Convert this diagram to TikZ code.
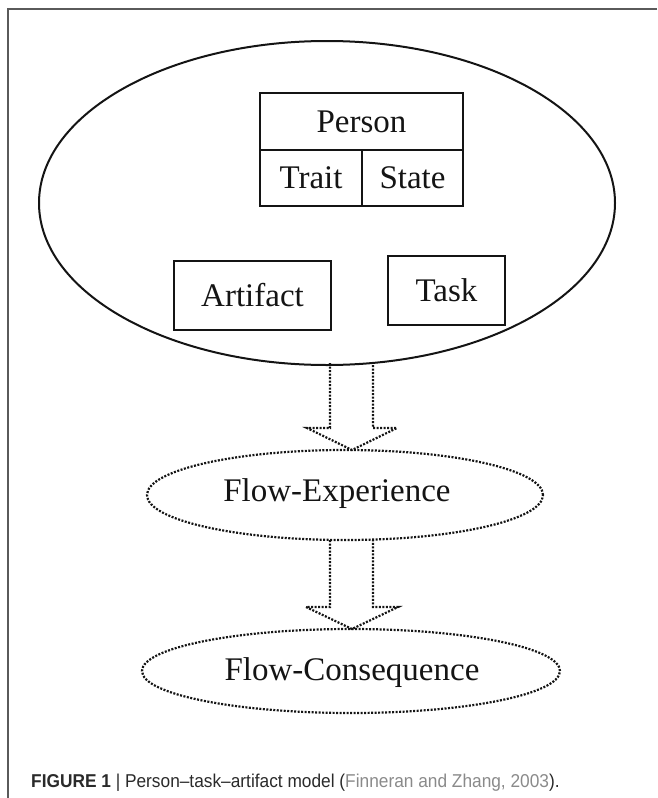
\documentclass[tikz,border=0pt]{standalone}
\usepackage{fontspec}
\setmainfont{Liberation Serif}
\newfontfamily\capfont[FakeStretch=0.93]{Liberation Sans}
\usetikzlibrary{shapes.geometric}
\definecolor{framegray}{HTML}{5A5A5A}
\definecolor{capdark}{HTML}{2A2A2A}
\definecolor{caplink}{HTML}{8A8A8A}
\definecolor{ink}{HTML}{141414}
\tikzset{
  x=1pt, y=-1pt,
  txt/.style={font=\fontsize{33}{38}\selectfont, text=ink, inner sep=0pt},
  boxnode/.style={draw=ink, line width=1.5pt, inner sep=0pt, outer sep=0pt},
  bigell/.style={ellipse, draw=ink, line width=2pt, inner sep=0pt, outer sep=0pt},
  dotell/.style={ellipse, draw=ink, line width=2.2pt, dash pattern=on 2pt off 1.5pt, inner sep=0pt, outer sep=0pt},
  dotarrow/.style={draw=ink, line width=2.2pt, dash pattern=on 2pt off 1.5pt, line join=miter},
  frameline/.style={draw=framegray, line width=2pt}
}
\begin{document}
\begin{tikzpicture}
\useasboundingbox (0,0) rectangle (657,798);
% frame (top and left)
\coordinate (fr1) at (657,9);
\coordinate (fr2) at (8,9);
\coordinate (fr3) at (8,798);
\draw[frameline] (fr1) -- (fr2) -- (fr3);

% main ellipse
\node[bigell, minimum width=576, minimum height=324] (main) at (327,203) {};

% Person table
\node[boxnode, minimum width=203, minimum height=57, txt] (person) at (361.5,121.5) {Person};
\node[boxnode, minimum width=102, minimum height=56, txt] (trait) at (311,178) {Trait};
\node[boxnode, minimum width=101, minimum height=56, txt] (state) at (412.5,178) {State};

% Artifact and Task
\node[boxnode, minimum width=157, minimum height=69, txt] (artifact) at (252.5,295.5) {Artifact};
\node[boxnode, minimum width=117, minimum height=69, txt] (task) at (446.5,290.5) {Task};

% Flow-Experience
\node[dotell, minimum width=396, minimum height=90] (fe) at (345,495) {};
\node[txt] (fetext) at (337,494) {Flow-Experience};

% Flow-Consequence
\node[dotell, minimum width=418, minimum height=84] (fc) at (351,671) {};
\node[txt] (fctext) at (352,673) {Flow-Consequence};

% arrow 1
\coordinate (a1ls) at (330,363);
\coordinate (a1rs) at (373,362);
\coordinate (a1tip) at (352,450);
\draw[dotarrow] (a1ls) -- (330,428) -- (307,428) -- (a1tip) -- (397,428) -- (373,428) -- (a1rs);

% arrow 2
\coordinate (a2ls) at (330,540);
\coordinate (a2rs) at (373,540);
\coordinate (a2tip) at (352,629);
\draw[dotarrow] (a2ls) -- (330,607) -- (306,607) -- (a2tip) -- (398,607) -- (373,607) -- (a2rs);

% caption
\node[anchor=base west, inner sep=0pt, font=\capfont\fontsize{18.6}{22}\selectfont] (caption) at (31,787)
  {\textcolor{capdark}{\bfseries FIGURE 1} \textcolor{capdark}{| Person–task–artifact model (}\textcolor{caplink}{Finneran and Zhang, 2003}\textcolor{capdark}{).}};
\end{tikzpicture}
\end{document}
